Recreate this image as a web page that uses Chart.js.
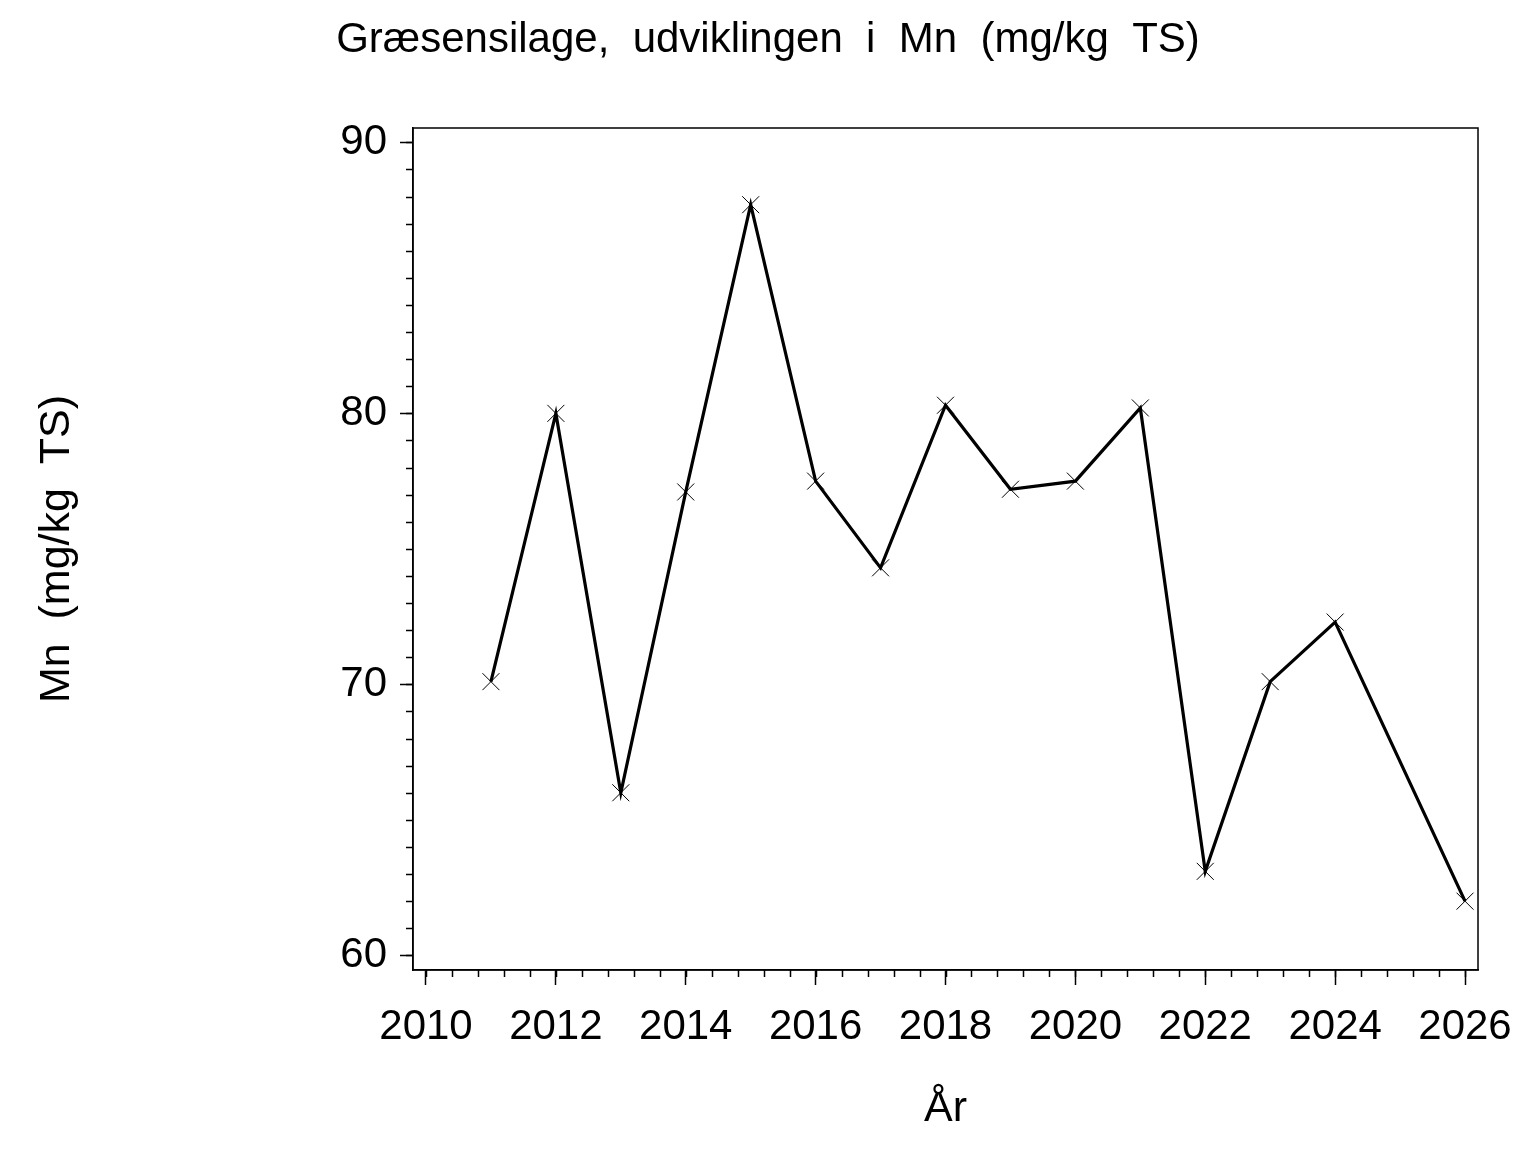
<!DOCTYPE html>
<html>
<head>
<meta charset="utf-8">
<script src="https://cdn.jsdelivr.net/npm/chart.js@4/dist/chart.umd.min.js"></script>
<style>
  html, body { margin: 0; padding: 0; background: #fff; }
  #c { display: block; }
</style>
</head>
<body>
<canvas id="c" width="1536" height="1152"></canvas>
<script>
const titleText = 'Græsensilage,  udviklingen  i  Mn  (mg/kg  TS)';
const xTitle = 'År';
const yTitle = 'Mn  (mg/kg  TS)';

const years = [2011, 2012, 2013, 2014, 2015, 2016, 2017, 2018, 2019, 2020, 2021, 2022, 2023, 2024, 2026];
const mnValues = [70.1, 80.0, 66.0, 77.1, 87.7, 77.5, 74.3, 80.3, 77.2, 77.5, 80.2, 63.1, 70.1, 72.3, 62.0];

const xMajorTicks = [2010, 2012, 2014, 2016, 2018, 2020, 2022, 2024, 2026];
const xMinorStep = 0.4;
const yMajorTicks = [60, 70, 80, 90];
const yMinorStep = 1;

const FONT = "'Liberation Sans', Arial, Helvetica, sans-serif";

const framePlugin = {
  id: 'frameAndMinor',
  afterDraw(chart) {
    const ctx = chart.ctx;
    const a = chart.chartArea;
    const xs = chart.scales.x, ys = chart.scales.y;
    ctx.save();
    ctx.strokeStyle = '#000';
    ctx.lineWidth = 1.5;
    ctx.strokeRect(a.left, a.top, a.right - a.left, a.bottom - a.top);
    ctx.beginPath();
    const x0 = xMajorTicks[0], x1 = xMajorTicks[xMajorTicks.length - 1];
    const nx = Math.round((x1 - x0) / xMinorStep);
    for (let i = 0; i <= nx; i++) {
      const v = x0 + i * xMinorStep;
      const px = Math.round(xs.getPixelForValue(v)) + 0.5;
      ctx.moveTo(px, a.bottom);
      ctx.lineTo(px, a.bottom + 7);
    }
    const y0 = yMajorTicks[0], y1 = yMajorTicks[yMajorTicks.length - 1];
    const ny = Math.round((y1 - y0) / yMinorStep);
    for (let i = 0; i <= ny; i++) {
      const v = y0 + i * yMinorStep;
      const py = Math.round(ys.getPixelForValue(v)) + 0.5;
      ctx.moveTo(a.left, py);
      ctx.lineTo(a.left - 7, py);
    }
    ctx.stroke();
    ctx.restore();
  }
};

new Chart(document.getElementById('c'), {
  type: 'line',
  data: {
    datasets: [{
      data: years.map((y, i) => ({ x: y, y: mnValues[i] })),
      borderColor: '#000',
      borderWidth: 3.2,
      pointStyle: 'crossRot',
      pointRadius: 12,
      pointHoverRadius: 12,
      pointBorderWidth: 1,
      pointBorderColor: '#000',
      pointBackgroundColor: '#000',
      tension: 0,
      fill: false
    }]
  },
  options: {
    responsive: false,
    devicePixelRatio: 1,
    animation: false,
    events: [],
    layout: { padding: { left: 0, right: 0, top: 0, bottom: 17.4 } },
    plugins: {
      legend: { display: false },
      tooltip: { enabled: false },
      title: {
        display: true,
        text: titleText,
        color: '#000',
        font: { family: FONT, size: 42, weight: 'normal', lineHeight: 1.2 },
        padding: { top: 15, bottom: 62.6 }
      }
    },
    scales: {
      x: {
        type: 'linear',
        min: 2009.8,
        max: 2026.2,
        afterBuildTicks: (s) => { s.ticks = xMajorTicks.map(v => ({ value: v })); },
        afterFit: (s) => { s.height = 164.6; },
        ticks: {
          color: '#000',
          font: { family: FONT, size: 42 },
          padding: 17,
          maxRotation: 0,
          autoSkip: false,
          callback: (v) => String(v)
        },
        grid: { drawOnChartArea: false, drawTicks: true, tickLength: 15, tickColor: '#000', tickWidth: 1.5 },
        border: { display: true, color: '#000', width: 1.5 },
        title: {
          display: true,
          text: xTitle,
          color: '#000',
          font: { family: FONT, size: 43, lineHeight: 1.2 },
          padding: 0
        }
      },
      y: {
        type: 'linear',
        min: 59.46,
        max: 90.53,
        afterBuildTicks: (s) => { s.ticks = yMajorTicks.map(v => ({ value: v })); },
        afterFit: (s) => { s.width = 413; },
        ticks: {
          color: '#000',
          font: { family: FONT, size: 42 },
          padding: 13,
          callback: (v) => String(v)
        },
        grid: { drawOnChartArea: false, drawTicks: true, tickLength: 13, tickColor: '#000', tickWidth: 1.5 },
        border: { display: true, color: '#000', width: 1.5 },
        title: {
          display: true,
          text: yTitle,
          color: '#000',
          font: { family: FONT, size: 43, lineHeight: 1.2 },
          padding: { top: 31.2, bottom: 0 }
        }
      },
      yRight: {
        type: 'linear',
        position: 'right',
        min: 59.46,
        max: 90.53,
        afterFit: (s) => { s.width = 58; },
        ticks: { display: false },
        grid: { display: false, drawTicks: false },
        border: { display: false }
      }
    }
  },
  plugins: [framePlugin]
});
</script>
</body>
</html>
